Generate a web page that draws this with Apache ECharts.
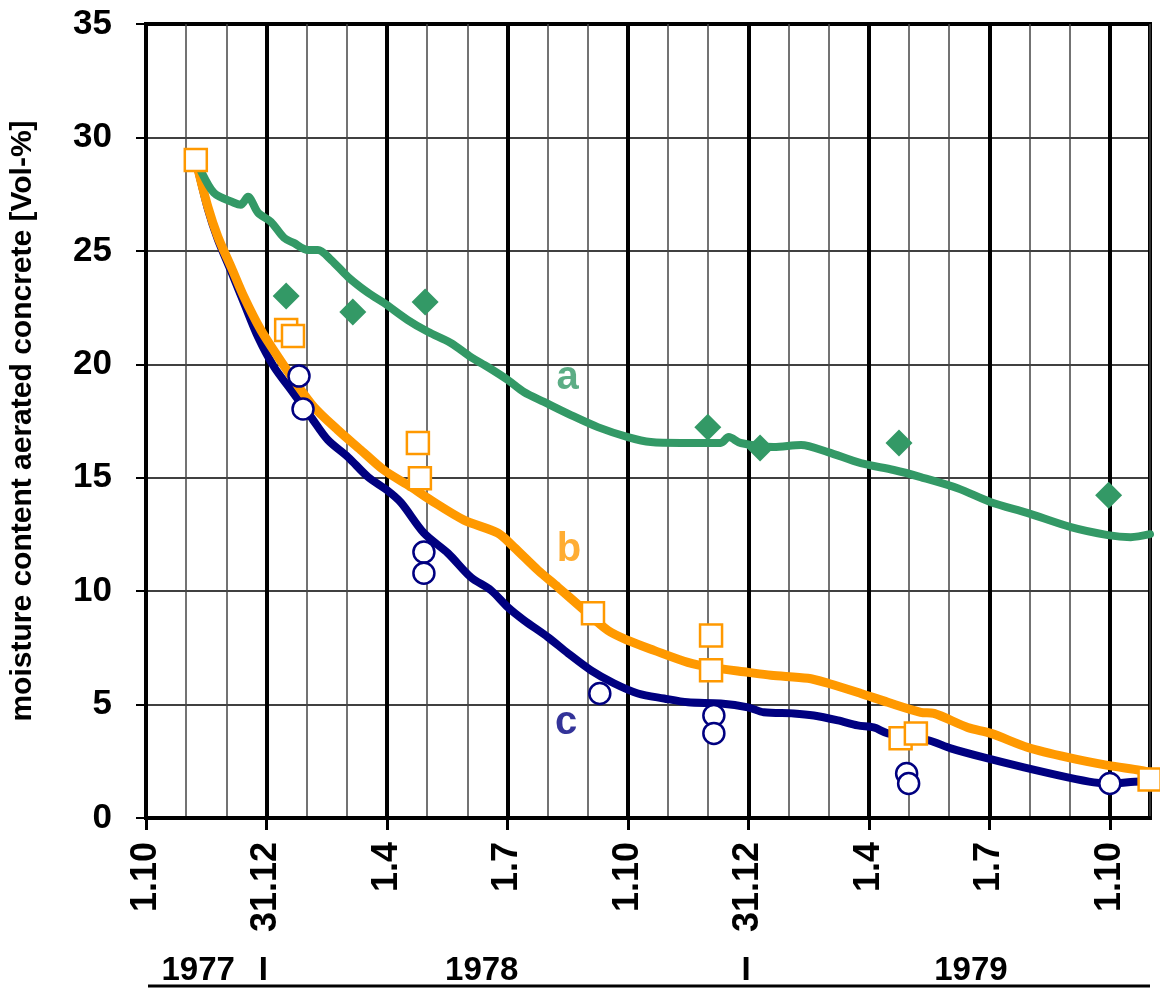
<!DOCTYPE html>
<html>
<head>
<meta charset="utf-8">
<script src="https://cdn.jsdelivr.net/npm/echarts@6/dist/echarts.min.js"></script>
<style>
  html, body { margin: 0; padding: 0; background: #fff; }
  #chart { width: 1160px; height: 988px; }
</style>
</head>
<body>
<div id="chart"></div>
<script>
// x values are months counted from 1.10.1977
const xTickLabels = ['1.10', '31.12', '1.4', '1.7', '1.10', '31.12', '1.4', '1.7', '1.10']

// curve a (green)
const lineA = [[1.24, 29.0], [1.29, 28.8], [1.69, 27.56], [2.19, 27.12], [2.36, 27.03], [2.54, 27.38],
  [2.79, 26.68], [3.11, 26.28], [3.44, 25.57], [3.68, 25.35], [4.03, 25.04], [4.28, 25.04], [4.61, 24.6],
  [5.03, 23.85], [5.53, 23.15], [5.92, 22.71], [6.52, 21.95], [7.02, 21.43], [7.59, 20.94], [8.09, 20.32],
  [8.51, 19.88], [9.01, 19.31], [9.41, 18.78], [9.91, 18.34], [10.58, 17.76], [11.25, 17.23], [12.0, 16.79],
  [12.57, 16.57], [13.32, 16.53], [14.31, 16.53], [14.51, 16.79], [14.81, 16.53], [15.63, 16.35],
  [16.31, 16.44], [16.98, 16.13], [17.8, 15.64], [18.62, 15.34], [19.29, 15.03], [20.21, 14.54],
  [21.04, 13.92], [21.96, 13.44], [23.03, 12.82], [23.95, 12.47], [24.52, 12.38], [25.0, 12.51]]

// curve b (orange)
const lineB = [[1.24, 29.0], [1.54, 26.94], [1.79, 25.62], [2.12, 24.29], [2.44, 22.97], [2.86, 21.51],
  [3.29, 20.32], [3.68, 19.31], [4.18, 18.12], [4.78, 17.1], [5.35, 16.22], [5.92, 15.34], [6.6, 14.59],
  [7.09, 14.01], [7.92, 13.13], [8.76, 12.56], [9.16, 11.94], [9.76, 10.92], [10.26, 10.17], [10.83, 9.29],
  [11.5, 8.27], [12.0, 7.83], [12.65, 7.39], [13.49, 6.86], [14.07, 6.64], [14.99, 6.42], [15.56, 6.29],
  [16.48, 6.16], [16.98, 5.94], [17.8, 5.49], [18.47, 5.1], [19.29, 4.66], [19.62, 4.61], [20.46, 3.99],
  [21.04, 3.73], [21.96, 3.11], [22.95, 2.67], [23.95, 2.32], [24.77, 2.1], [25.0, 2.0]]

// curve c (navy)
const lineC = [[1.24, 29.0], [1.54, 26.85], [1.79, 25.5], [2.12, 24.1], [2.44, 22.7], [2.79, 21.2],
  [3.19, 19.88], [3.61, 18.87], [4.11, 17.67], [4.53, 16.66], [5.03, 15.91], [5.53, 15.03], [6.0, 14.45],
  [6.35, 13.9], [6.92, 12.56], [7.52, 11.67], [8.09, 10.61], [8.59, 10.04], [9.01, 9.29], [9.41, 8.72],
  [10.01, 7.97], [10.51, 7.26], [11.08, 6.51], [11.65, 5.94], [12.25, 5.49], [12.9, 5.27], [13.49, 5.1],
  [14.31, 5.05], [14.99, 4.88], [15.38, 4.66], [16.13, 4.61], [16.63, 4.52], [17.23, 4.3], [17.72, 4.08],
  [18.12, 3.99], [18.47, 3.73], [19.49, 3.42], [20.04, 3.07], [20.86, 2.67], [21.86, 2.23], [22.95, 1.79],
  [23.6, 1.57], [24.02, 1.52], [24.77, 1.61], [25.0, 1.6]]

// measured points
const pointsA = [[3.49, 23.01], [5.15, 22.31], [6.95, 22.75], [13.99, 17.23], [15.29, 16.31], [18.75, 16.53], [23.97, 14.23]]
const pointsB = [[1.24, 29.0], [3.49, 21.51], [3.66, 21.25], [6.77, 16.53], [6.82, 14.98], [11.13, 9.02],
  [14.07, 8.05], [14.07, 6.51], [18.79, 3.51], [19.17, 3.73], [24.99, 1.7]]
const pointsC = [[3.81, 19.48], [3.91, 18.03], [6.92, 11.72], [6.92, 10.79], [11.3, 5.49], [14.14, 4.52],
  [14.14, 3.73], [18.94, 1.96], [18.99, 1.52], [24.0, 1.52]]

// curve names placed on the chart
const curveNames = ['a', 'b', 'c']
const curveNamePos = [[10.5, 19.4], [10.53, 11.8], [10.46, 4.2]]

// year row under the axis
const years = ['1977', 'I', '1978', 'I', '1979']
const yearPos = [1.3, 2.92, 8.36, 14.94, 20.54]

const GREEN = '#339966'
const ORANGE = '#FF9900'
const NAVY = '#000080'
const FONT = "Arial, 'Liberation Sans', sans-serif"

const chart = echarts.init(document.getElementById('chart'))

const nameSeries = curveNames.map((n, i) => ({
  type: 'scatter',
  symbolSize: 0,
  z: 5,
  data: [curveNamePos[i]],
  label: {
    show: true,
    position: 'inside',
    formatter: n,
    fontFamily: FONT,
    fontWeight: 'bold',
    fontSize: 40,
    color: [GREEN, ORANGE, NAVY][i]
  }
}))

const option = {
  animation: false,
  grid: {
    left: 145,
    right: 10,
    top: 24,
    bottom: 170,
    show: true,
    borderColor: '#000',
    borderWidth: 4
  },
  xAxis: [
    {
      type: 'value',
      min: 0,
      max: 25,
      interval: 1,
      position: 'bottom',
      axisLine: { show: true, onZero: false, lineStyle: { color: '#000', width: 4 } },
      axisTick: { show: false },
      splitLine: { show: true, lineStyle: { color: '#444', width: 1.5 } },
      axisLabel: {
        rotate: 90,
        margin: 24,
        fontFamily: FONT,
        fontWeight: 'bold',
        fontSize: 36,
        color: '#000',
        formatter: function (v) {
          const m = Math.round(v)
          if (m % 3 !== 0 || m / 3 >= xTickLabels.length) return ''
          return xTickLabels[m / 3]
        }
      }
    },
    {
      type: 'value',
      min: 0,
      max: 25,
      interval: 3,
      position: 'bottom',
      axisLine: { show: false },
      axisTick: {
        show: true,
        length: 12,
        lineStyle: { color: '#000', width: 3 },
        customValues: [0, 3, 6, 9, 12, 15, 18, 21, 24]
      },
      axisLabel: { show: false },
      splitLine: { show: true, lineStyle: { color: '#000', width: 4 } }
    }
  ],
  yAxis: {
    type: 'value',
    min: 0,
    max: 35,
    interval: 5,
    name: 'moisture content aerated concrete [Vol-%]',
    nameLocation: 'middle',
    nameGap: 108,
    nameRotate: 90,
    nameTextStyle: {
      fontFamily: FONT,
      fontWeight: 'bold',
      fontSize: 30,
      color: '#000'
    },
    axisLine: { show: true, lineStyle: { color: '#000', width: 4 } },
    axisTick: { show: true, length: 10, lineStyle: { color: '#000', width: 2 } },
    splitLine: { show: true, lineStyle: { color: '#000', width: 1.5 } },
    axisLabel: {
      margin: 34,
      fontFamily: FONT,
      fontWeight: 'bold',
      fontSize: 35,
      color: '#000'
    }
  },
  series: [
    {
      type: 'line',
      data: lineC,
      showSymbol: false,
      smooth: 0.3,
      z: 2,
      lineStyle: { color: NAVY, width: 8, join: 'round', cap: 'round' }
    },
    {
      type: 'line',
      data: lineB,
      showSymbol: false,
      smooth: 0.3,
      z: 2,
      lineStyle: { color: ORANGE, width: 9, join: 'round', cap: 'round' }
    },
    {
      type: 'line',
      data: lineA,
      showSymbol: false,
      smooth: 0.3,
      z: 2,
      lineStyle: { color: GREEN, width: 8, join: 'round', cap: 'round' }
    },
    {
      type: 'scatter',
      data: pointsA,
      symbol: 'diamond',
      symbolSize: [27, 27],
      z: 3,
      itemStyle: { color: GREEN, opacity: 1 }
    },
    {
      type: 'scatter',
      data: pointsB,
      symbol: 'rect',
      symbolSize: 22,
      z: 4,
      itemStyle: { color: '#fff', borderColor: ORANGE, borderWidth: 2.5, opacity: 1 }
    },
    {
      type: 'scatter',
      data: pointsC,
      symbol: 'circle',
      symbolSize: 21,
      z: 4,
      itemStyle: { color: '#fff', borderColor: NAVY, borderWidth: 2.5, opacity: 1 }
    }
  ].concat(nameSeries)
}

chart.setOption(option)

// year row: positioned from the x axis scale
const yearGraphics = years.map((t, i) => ({
  type: 'text',
  x: chart.convertToPixel({ xAxisIndex: 0 }, yearPos[i]),
  y: 971,
  style: {
    text: t,
    fontFamily: FONT,
    fontWeight: 'bold',
    fontSize: 33,
    fill: '#000',
    align: 'center',
    verticalAlign: 'middle'
  }
}))
yearGraphics.push({
  type: 'line',
  shape: { x1: 148, y1: 986, x2: 1150, y2: 986 },
  style: { stroke: '#000', lineWidth: 3 }
})
chart.setOption({ graphic: yearGraphics })

window.addEventListener('resize', () => chart.resize())
</script>
</body>
</html>
